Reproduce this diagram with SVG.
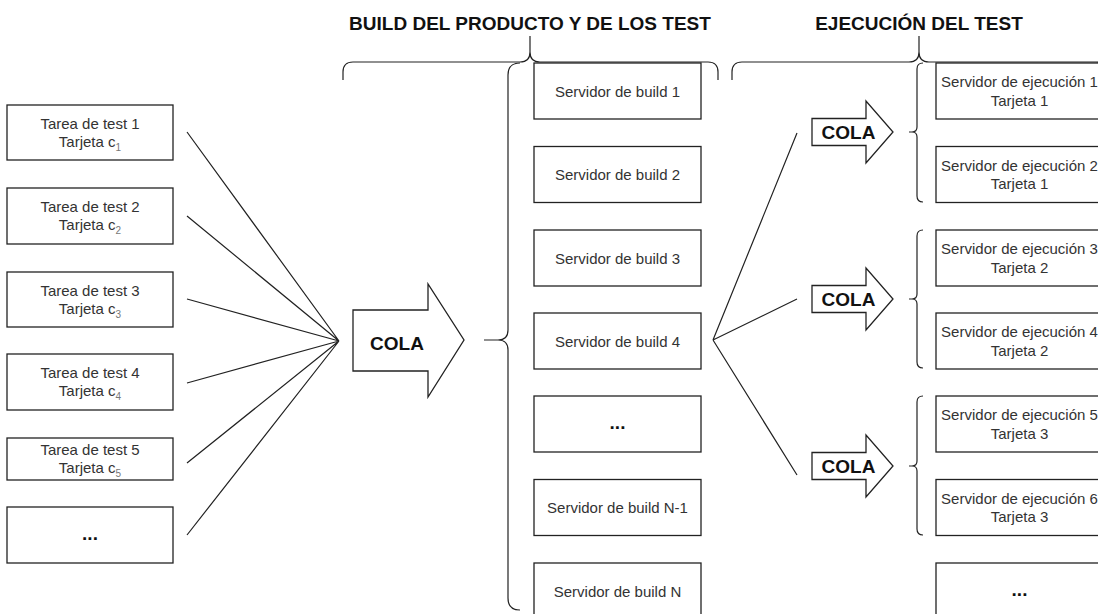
<svg xmlns="http://www.w3.org/2000/svg" width="1098" height="614" viewBox="0 0 1098 614">
<style>
.box{fill:#fff;stroke:#222;stroke-width:1.3}
.t{font-family:"Liberation Sans",Arial,sans-serif;font-size:15px;fill:#333;text-anchor:middle}
.b{font-family:"Liberation Sans",Arial,sans-serif;font-size:19px;font-weight:bold;fill:#111;text-anchor:middle}
.ln{fill:none;stroke:#222;stroke-width:1.2}
.arr{fill:#fff;stroke:#222;stroke-width:1.3}
.sub{font-size:10px;fill:#777}
</style>
<rect width="1098" height="614" fill="#fff"/>

<g id="titles">
<text class="b" x="530" y="30">BUILD DEL PRODUCTO Y DE LOS TEST</text>
<text class="b" x="919" y="30">EJECUCIÓN DEL TEST</text>
</g>

<g id="connectors">
<path class="ln" d="M187 132 L339 341 M187 216 L339 341 M187 299 L339 341 M187 383 L339 341 M187 463 L339 341 M187 535 L339 341"/>
<path class="ln" d="M713 340 L797 133 M713 340 L797 299 M713 340 L797 475"/>
</g>

<g id="braces">
<path class="ln" d="M343 80 L343 72 Q343 62 353 62 L520 62 Q530 62 530 52 L530 36 M530 52 Q530 62 540 62 L708 62 Q718 62 718 72 L718 80"/>
<path class="ln" d="M732 80 L732 72 Q732 62 742 62 L909 62 Q919 62 919 52 L919 36 M919 52 Q919 62 929 62 L1096 62 Q1106 62 1106 72 L1106 80"/>
<path class="ln" d="M520 63 Q508 63 508 75 L508 330 Q508 340 498 340 L484 340 M498 340 Q508 340 508 350 L508 598 Q508 610 520 610"/>
<path class="ln" d="M923 63 Q917 63 917 69 L917 127 Q917 132 912 132 L909 132 M912 132 Q917 132 917 137 L917 196 Q917 202 923 202"/>
<path class="ln" d="M923 230 Q917 230 917 236 L917 294 Q917 299 912 299 L909 299 M912 299 Q917 299 917 304 L917 362 Q917 368 923 368"/>
<path class="ln" d="M923 396 Q917 396 917 402 L917 461 Q917 466 912 466 L909 466 M912 466 Q917 466 917 471 L917 529 Q917 535 923 535"/>
</g>

<g id="task1"><rect class="box" x="7" y="105" width="166" height="55"/><text class="t" x="90" y="128.5">Tarea de test 1</text><text class="t" x="90" y="146.5">Tarjeta c<tspan class="sub" dy="4">1</tspan></text></g>
<g id="task2"><rect class="box" x="7" y="188" width="166" height="56"/><text class="t" x="90" y="212">Tarea de test 2</text><text class="t" x="90" y="230">Tarjeta c<tspan class="sub" dy="4">2</tspan></text></g>
<g id="task3"><rect class="box" x="7" y="272" width="166" height="55"/><text class="t" x="90" y="295.5">Tarea de test 3</text><text class="t" x="90" y="313.5">Tarjeta c<tspan class="sub" dy="4">3</tspan></text></g>
<g id="task4"><rect class="box" x="7" y="354" width="166" height="56"/><text class="t" x="90" y="378">Tarea de test 4</text><text class="t" x="90" y="396">Tarjeta c<tspan class="sub" dy="4">4</tspan></text></g>
<g id="task5"><rect class="box" x="7" y="438" width="166" height="42"/><text class="t" x="90" y="455">Tarea de test 5</text><text class="t" x="90" y="473">Tarjeta c<tspan class="sub" dy="4">5</tspan></text></g>
<g id="task6"><rect class="box" x="7" y="507" width="166" height="56"/><text class="b" x="90" y="540">...</text></g>

<g id="cola-main"><polygon class="arr" points="353,310 428,310 428,284 464,340 428,397 428,371 353,371"/><text class="b" x="397" y="350">COLA</text></g>

<g id="build1"><rect class="box" x="534" y="63" width="167" height="56"/><text class="t" x="617.5" y="96.5">Servidor de build 1</text></g>
<g id="build2"><rect class="box" x="534" y="146.5" width="167" height="56"/><text class="t" x="617.5" y="180">Servidor de build 2</text></g>
<g id="build3"><rect class="box" x="534" y="230" width="167" height="56"/><text class="t" x="617.5" y="263.5">Servidor de build 3</text></g>
<g id="build4"><rect class="box" x="534" y="313" width="167" height="56"/><text class="t" x="617.5" y="346.5">Servidor de build 4</text></g>
<g id="build5"><rect class="box" x="534" y="396" width="167" height="56"/><text class="b" x="617.5" y="429">...</text></g>
<g id="buildN1"><rect class="box" x="534" y="479.5" width="167" height="56"/><text class="t" x="617.5" y="513">Servidor de build N-1</text></g>
<g id="buildN"><rect class="box" x="534" y="563" width="167" height="56"/><text class="t" x="617.5" y="596.5">Servidor de build N</text></g>

<g id="cola1"><polygon class="arr" points="812,118.5 866,118.5 866,101 893,132 866,163 866,145.5 812,145.5"/><text class="b" x="848.5" y="139">COLA</text></g>
<g id="cola2"><polygon class="arr" points="812,285.5 866,285.5 866,268 893,299 866,330 866,312.5 812,312.5"/><text class="b" x="848.5" y="306">COLA</text></g>
<g id="cola3"><polygon class="arr" points="812,452.5 866,452.5 866,435 893,466 866,497 866,479.5 812,479.5"/><text class="b" x="848.5" y="473">COLA</text></g>

<g id="exec1"><rect class="box" x="936" y="63" width="167" height="56"/><text class="t" x="1019.5" y="87">Servidor de ejecución 1</text><text class="t" x="1019.5" y="105.5">Tarjeta 1</text></g>
<g id="exec2"><rect class="box" x="936" y="146.5" width="167" height="56"/><text class="t" x="1019.5" y="170.5">Servidor de ejecución 2</text><text class="t" x="1019.5" y="189">Tarjeta 1</text></g>
<g id="exec3"><rect class="box" x="936" y="230" width="167" height="56"/><text class="t" x="1019.5" y="254">Servidor de ejecución 3</text><text class="t" x="1019.5" y="272.5">Tarjeta 2</text></g>
<g id="exec4"><rect class="box" x="936" y="313" width="167" height="56"/><text class="t" x="1019.5" y="337">Servidor de ejecución 4</text><text class="t" x="1019.5" y="355.5">Tarjeta 2</text></g>
<g id="exec5"><rect class="box" x="936" y="396" width="167" height="56"/><text class="t" x="1019.5" y="420">Servidor de ejecución 5</text><text class="t" x="1019.5" y="438.5">Tarjeta 3</text></g>
<g id="exec6"><rect class="box" x="936" y="479.5" width="167" height="56"/><text class="t" x="1019.5" y="503.5">Servidor de ejecución 6</text><text class="t" x="1019.5" y="522">Tarjeta 3</text></g>
<g id="exec7"><rect class="box" x="936" y="563" width="167" height="56"/><text class="b" x="1019.5" y="596">...</text></g>
</svg>
